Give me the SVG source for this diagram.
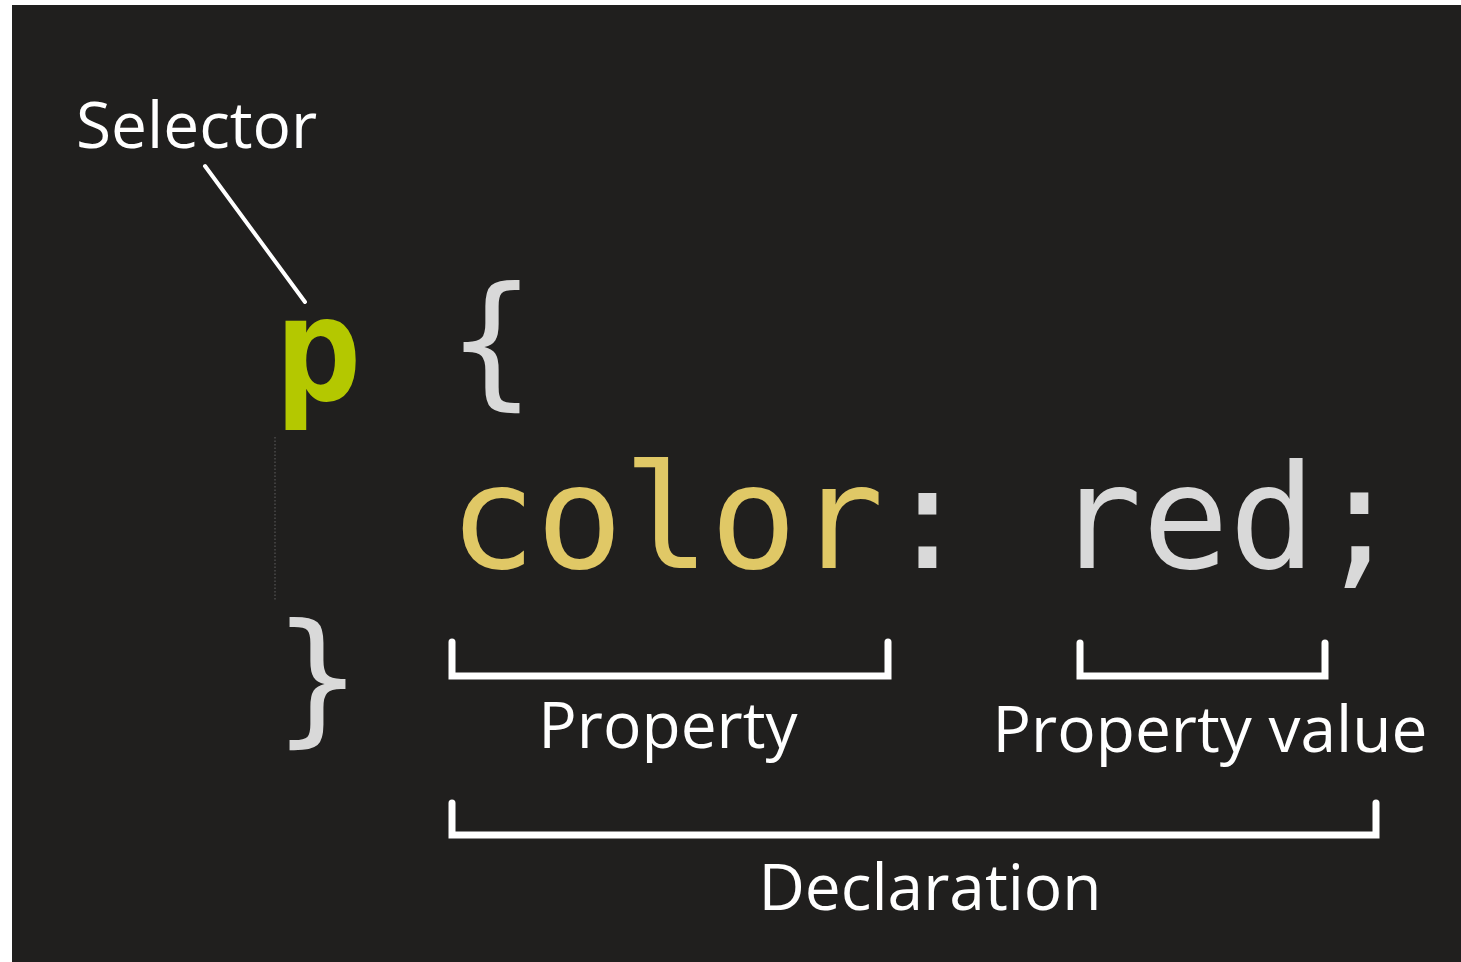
<svg xmlns="http://www.w3.org/2000/svg" width="1461" height="962" viewBox="0 0 1461 962">
<style>
.code{font-family:"DejaVu Sans Mono",monospace;font-size:144.5px}
.lbl{font-family:"Open Sans","Noto Sans",sans-serif;font-size:64px;fill:#ffffff}
.br{fill:none;stroke:#ffffff;stroke-width:7;stroke-linecap:round;stroke-linejoin:miter}
</style>
<rect x="0" y="0" width="1461" height="962" fill="#ffffff"/>
<rect x="12" y="5" width="1449" height="957" fill="#201f1e"/>
<g id="code">
<text class="code" x="275" y="400" fill="#b4c800" font-weight="bold">p</text>
<text class="code" x="448" y="390" fill="#d9d9d9">{</text>
<text class="code" x="449" y="568" fill="#e0c866">color<tspan fill="#d9d9d9">:</tspan></text>
<text class="code" x="1055" y="568" fill="#d9d9d9">red;</text>
<text class="code" x="274" y="727" fill="#d9d9d9">}</text>
<line x1="275" y1="437" x2="275" y2="600" stroke="#4a4a4a" stroke-width="1.5" stroke-dasharray="1.5 2"/>
</g>
<g id="selector">
<text class="lbl" x="76" y="148">Selector</text>
</g>
<g id="property">
<text class="lbl" x="668" y="748" text-anchor="middle">Property</text>
</g>
<g id="property-value">
<text class="lbl" x="1210" y="752" text-anchor="middle">Property value</text>
</g>
<g id="declaration">
<text class="lbl" x="930" y="910" text-anchor="middle">Declaration</text>
</g>
<g id="connectors">
<line x1="205" y1="166" x2="305" y2="302" stroke="#ffffff" stroke-width="4" stroke-linecap="round"/>
<path class="br" d="M452 642 V676 H888 V642"/>
<path class="br" d="M1080 643 V676 H1325 V643"/>
<path class="br" d="M452 803 V835 H1376 V803"/>
</g>
</svg>
